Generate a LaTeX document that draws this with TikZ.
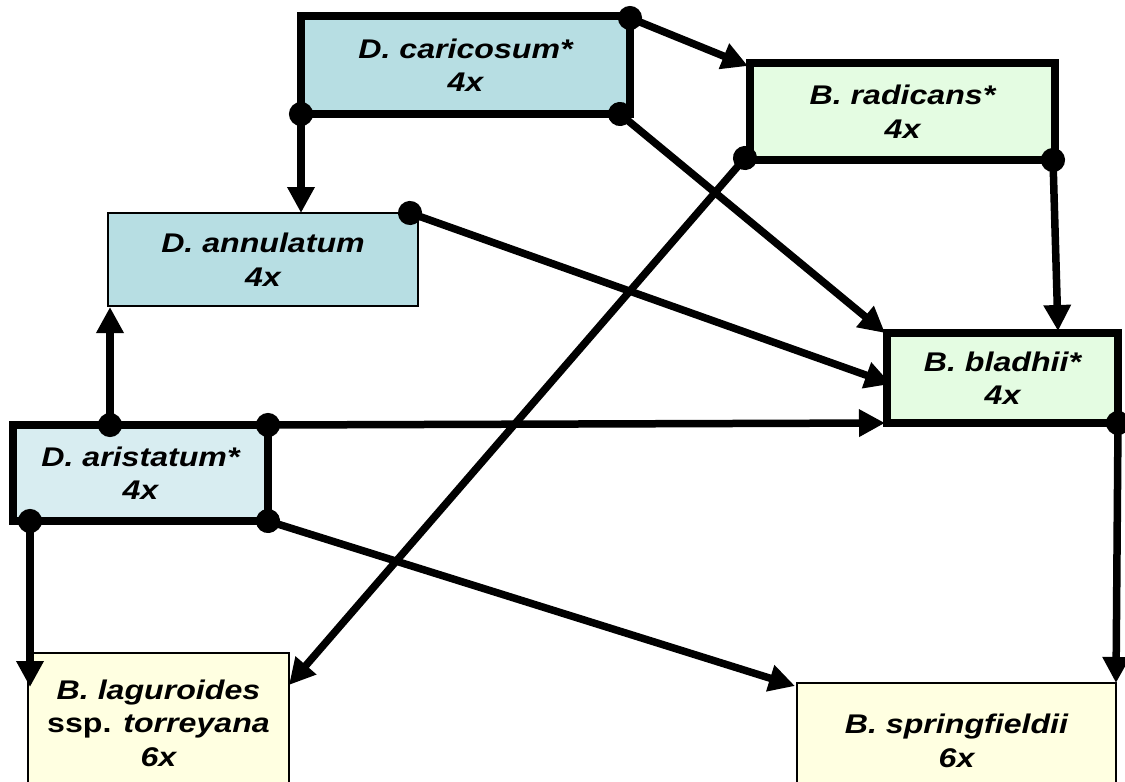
\documentclass[tikz,border=0pt]{standalone}
\usepackage{fontspec}
\setmainfont{Liberation Sans}[FakeStretch=1.19]
\usetikzlibrary{arrows.meta,calc}
\definecolor{teal1}{HTML}{B7DEE3}
\definecolor{teal2}{HTML}{D8EDF1}
\definecolor{green1}{HTML}{E4FCE2}
\definecolor{yel1}{HTML}{FFFFE1}
\tikzset{
  box/.style={rectangle, outer sep=0pt, inner sep=0pt, align=center,
    font=\fontsize{27}{33.5}\selectfont\bfseries\itshape},
  thickbox/.style={box, draw, line width=7.5pt},
  thinbox/.style={box, draw, line width=2.5pt},
  conn/.style={line width=7.5pt, shorten <=-12pt,
    {Circle[length=24pt]}-{Triangle[length=26pt,width=26pt]}},
}
\begin{document}
\begin{tikzpicture}[x=1pt,y=-1pt]
\useasboundingbox (0,0) rectangle (1125,782);
\fill[white] (0,0) rectangle (1125,782);
% boxes
\node[thickbox, fill=teal1, minimum width=329pt, minimum height=98pt] (car) at (465.5,65) {D. caricosum*\\4x};
\node[thickbox, fill=green1, minimum width=305pt, minimum height=97pt] (rad) at (902.5,111.5) {B. radicans*\\4x};
\node[thinbox, fill=teal1, minimum width=310pt, minimum height=93pt] (ann) at (263,259.5) {D. annulatum\\4x};
\node[thickbox, fill=green1, minimum width=231pt, minimum height=90pt] (bla) at (1002.5,378) {B. bladhii*\\4x};
\node[thickbox, fill=teal2, minimum width=255pt, minimum height=96pt] (ari) at (140.5,473) {D. aristatum*\\4x};
\node[thinbox, fill=yel1, minimum width=261pt, minimum height=140pt] (lag) at (158.5,723) {B. laguroides\\{\upshape ssp.} torreyana\\6x};
\node[thinbox, fill=yel1, minimum width=319pt, minimum height=116pt] (spr) at (956.5,741) {B. springfieldii\\6x};
% connectors
\draw[conn] ($(car.north east)+(0,2)$) -- ($(rad.north west)+(-2,3)$);
\draw[conn] (car.south west) -- (car.south west |- ann.north);
\draw[conn] ($(car.south east)+(-10,0)$) -- ($(bla.north west)+(-2,0)$);
\draw[conn] ($(rad.south west)+(-5,-2)$) -- ($(lag.north east)+(0,32)$);
\draw[conn] ($(rad.south east)+(-2,0)$) -- ($(bla.north east)+(-60,-2)$);
\draw[conn] ($(ann.north east)+(-8,0)$) -- ($(bla.west)+(4,6)$);
\draw[conn] ($(ari.north west)+(97,0)$) -- ($(ann.south west)+(2,1)$);
\draw[conn] (ari.north east) -- ($(bla.south west)+(-2,0)$);
\draw[conn] ($(ari.south west)+(17,0)$) -- ($(lag.north west)+(2,34)$);
\draw[conn] (ari.south east) -- ($(spr.north west)+(-2,3)$);
\draw[conn] (bla.south east) -- ($(spr.north east)+(0,0)$);
\end{tikzpicture}
\end{document}
